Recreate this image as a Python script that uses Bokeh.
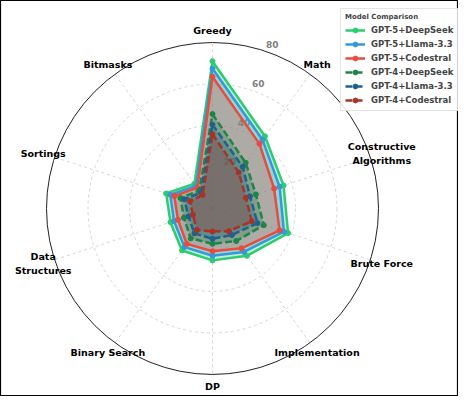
import numpy as np
from bokeh.plotting import figure
from bokeh.models import Range1d, Legend, LegendItem
from bokeh.embed import file_html
from bokeh.resources import INLINE
from bokeh.core.properties import value

# ---------------- data ----------------
categories = ["Greedy", "Math", "Constructive\nAlgorithms", "Brute Force", "Implementation",
              "DP", "Binary Search", "Data\nStructures", "Sortings", "Bitmasks"]

gpt5_deepseek = [71.0, 43.0, 36.0, 38.3, 28.2, 25.0, 25.0, 21.3, 23.5, 14.8]
gpt5_llama = [67.5, 41.0, 34.0, 36.2, 25.9, 22.8, 23.0, 19.5, 21.4, 13.5]
gpt5_codestral = [63.5, 38.5, 31.2, 34.0, 23.7, 20.6, 21.1, 17.5, 19.4, 12.4]
gpt4_deepseek = [45.5, 27.2, 22.0, 26.0, 19.4, 17.0, 17.8, 14.5, 16.2, 10.8]
gpt4_llama = [40.4, 24.8, 19.0, 22.8, 15.8, 14.6, 14.8, 12.2, 14.3, 9.5]
gpt4_codestral = [35.8, 21.5, 16.9, 19.9, 13.5, 11.1, 12.8, 9.9, 11.4, 8.1]

series_names = ["GPT-5+DeepSeek", "GPT-5+Llama-3.3", "GPT-5+Codestral",
                "GPT-4+DeepSeek", "GPT-4+Llama-3.3", "GPT-4+Codestral"]
series_values = [gpt5_deepseek, gpt5_llama, gpt5_codestral,
                 gpt4_deepseek, gpt4_llama, gpt4_codestral]

r_ticks = [20, 40, 60, 80]
r_max = 80
legend_title = "Model Comparison"

# ---------------- style ----------------
colors = ["#2ecc71", "#3498db", "#e74c3c", "#1e8449", "#1f618d", "#a93226"]
dashes = ["solid", "solid", "solid", "7 3", "7 3", "7 3"]
FONT = "DejaVu Sans"

W, H = 458, 396
CX, CY = 212, 208          # centre of the polar plot in screen px from top-left
R_PX = 166                 # radius (px) of the outer circle
scale = R_PX / r_max

n = len(categories)
theta = np.pi / 2 - np.arange(n) * 2 * np.pi / n

p = figure(width=W, height=H, output_backend="svg", toolbar_location=None,
           x_range=Range1d(-CX, W - CX), y_range=Range1d(-(H - CY), CY),
           min_border=0)
p.axis.visible = False
p.grid.visible = False
p.outline_line_color = "black"
p.outline_line_width = 1.2
p.background_fill_color = "white"

# grid circles
for t in r_ticks[:-1]:
    p.circle(x=[0], y=[0], radius=[t * scale], fill_color=None,
             line_color="#cccccc", line_width=0.8, line_dash="3 3")
# spokes
for th in theta:
    p.line([0, R_PX * np.cos(th)], [0, R_PX * np.sin(th)],
           line_color="#cccccc", line_width=0.8, line_dash="3 3")
# outer spine
p.circle(x=[0], y=[0], radius=[r_max * scale], fill_color=None,
         line_color="#222222", line_width=1.0)

# radial tick labels
lab_ang = np.deg2rad(90 - 20)
tx = [(t * scale + 9) * np.cos(lab_ang) for t in r_ticks]
ty = [(t * scale + 9) * np.sin(lab_ang) for t in r_ticks]
p.text(x=tx, y=ty, text=[str(t) for t in r_ticks], text_align="center",
       text_baseline="middle", text_font_size="9px", text_font_style="bold",
       text_color="#808080", text_font=value(FONT))

# series
items = []
for name, vals, col, dash in zip(series_names, series_values, colors, dashes):
    v = np.array(vals, dtype=float)
    x = v * scale * np.cos(theta)
    y = v * scale * np.sin(theta)
    p.patch(x, y, fill_color=col, fill_alpha=0.3, line_color=None)
    xc = np.append(x, x[0])
    yc = np.append(y, y[0])
    lr = p.line(xc, yc, line_color=col, line_width=2.5, line_dash=dash)
    sr = p.scatter(x, y, size=5, color=col)
    items.append(LegendItem(label=name, renderers=[lr, sr]))

# category labels
LR = 178
p.text(x=list(LR * np.cos(theta)), y=list(LR * np.sin(theta)), text=categories,
       text_align="center", text_baseline="middle", text_font_size="9.5px",
       text_font_style="bold", text_color="black", text_font=value(FONT),
       text_line_height=1.2)

legend = Legend(items=items, title=legend_title, location=(340, 285),
                title_text_font_size="7px", title_text_font_style="bold",
                title_text_font=FONT, title_standoff=3,
                label_text_font_size="8.5px", label_text_font_style="bold",
                label_text_font=FONT,
                glyph_width=20, glyph_height=12, label_height=12, spacing=2,
                padding=4, label_standoff=6, margin=0,
                border_line_color="#cccccc", background_fill_alpha=0.85)
p.add_layout(legend)

open("out.html", "w").write(file_html(p, INLINE))
